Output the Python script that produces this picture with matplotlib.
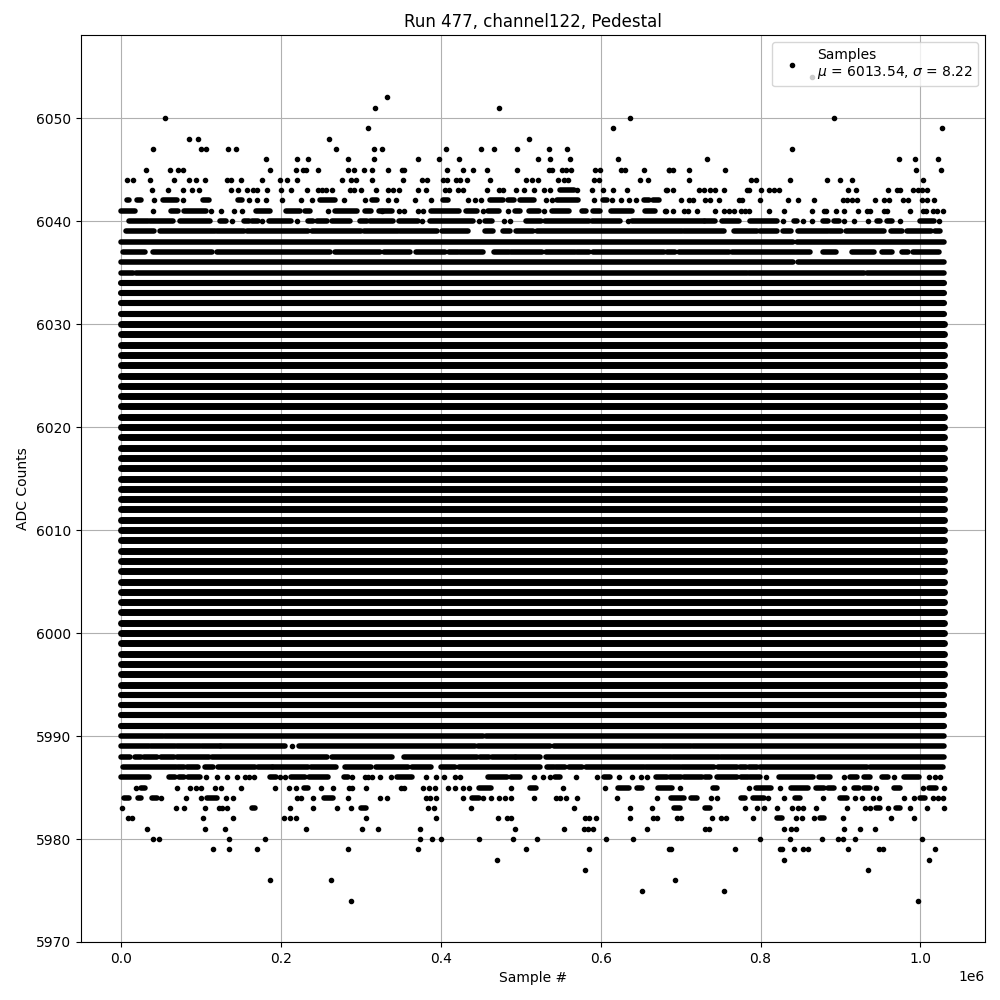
import matplotlib
matplotlib.use("Agg")
import matplotlib.pyplot as plt

# sample positions are in thousands of samples
core_rows = [5995,5996,5997,5998,5999,6000,6001,6002,6003,6004,6005,
             6006,6007,6008,6009,6010,6011,6012,6013,6014,6015,6016,6017,6018,6019,6020,
             6021,6022,6023,6024,6025,6026,6027,6028,6029,6030]
edge_rows = [5991,5992,5993,5994,6031,6032,6033,6034]
full_extent = (0, 1030)

# isolated samples, one list per ADC level
d6054 = [865]
d6052 = [333]
d6051 = [317, 472]
d6050 = [55, 637, 892]
d6049 = [308, 615, 1027]
d6048 = [84, 96, 260, 510]
d6047 = [39, 99, 105.5, 133, 143, 268, 315.5, 326, 406, 449.5, 466, 495, 535, 558, 840]
d6046 = [181.5, 220, 234, 283, 315.5, 371, 397, 423, 521, 537, 562, 621, 732.5, 973, 993, 1022]
d6045 = [31, 61, 71, 77.5, 186, 218, 227, 231, 246.5, 284, 290.5, 303, 314, 334, 351, 354, 407, 428, 439.5,
         457, 495, 535, 539, 551, 557, 562.6, 593, 598.5, 625, 630, 654, 685, 686, 690, 711, 756, 994, 1026]
d6044 = [6.5, 15, 36, 66, 85, 93, 105, 132.6, 137.6, 150, 176.4, 199, 207.7, 220, 275.8, 287, 293, 314, 353, 376,
         382, 403, 407.3, 418.6, 424, 433, 460.7, 507, 514, 521, 546, 553.4, 559, 592, 598, 648.6, 658.6,
         711, 788, 794, 836.5, 883, 900, 915, 1004]
d6043 = [38.6, 58.7, 77.5, 88.7, 97.5, 137.6, 146.4, 157.6, 165, 170, 181.8, 200, 212.7, 232.8, 246.6, 250.7,
         255.8, 263.3, 286, 291, 300.4, 319, 334, 339.7, 346.8, 370.6, 380.6, 404.4, 410.6, 420.7, 428, 457,
         473, 477.4, 493.3, 503.3, 517, 528.4, 536.7, 570, 588.5, 602.3, 614.8, 632.7, 682.4,
         682, 691, 722.5, 729, 737, 743.4, 754, 782.6, 785, 800, 810, 816.5, 823, 910, 920, 959, 971, 975,
         990.5, 997, 1002, 1008.5]
d6042 = [41, 77.5, 160, 170, 181.4, 201.5, 224.9, 239, 279, 304.6, 334, 344, 368, 387.7, 434.4, 443, 450, 531,
         538.4, 592, 614, 624.8, 634.8, 644.4, 700, 711, 715,
         731, 737, 747.6, 772.6, 777, 799, 835, 846.5, 866.6, 903, 908, 914.6, 921, 943, 954, 960.5, 978.4,
         984, 1002, 1008.5, 1017]
d6041 = [39.9, 111.7, 125, 141.4, 151.4, 258, 326, 348, 354, 370.6, 378, 452.4, 483.3, 528.4, 682,
         681, 691, 704, 709, 720, 742.6, 754, 760, 767, 775, 781, 785,
         810, 829, 864, 879, 882.4, 894, 904, 922, 933, 937, 954, 958, 987, 1003, 1007, 1016, 1021, 1028]
d6040 = [138, 176.4, 219.4, 376.8, 447.8, 478.3, 485.8, 633.6, 827.7, 853, 864.5, 905, 916.6, 934, 974, 1023.5]
d5989 = [213.6]
d5986 = [106, 120, 132.6, 145, 154, 160, 166.4, 198.6, 205, 289, 305, 309, 314, 323, 338, 381, 394, 404, 418,
         424, 517, 528, 536, 569, 595, 623, 639, 650, 657.4, 806.4, 905, 967.6, 1010.6, 1018, 1024.4]
d5985 = [17.8, 70, 86, 93.3, 100, 117, 124, 150, 192.7, 210, 218, 249.5, 265, 285, 289, 305.5, 350, 354, 377,
         385, 393, 409, 417, 427, 435, 487, 553, 605.6, 699, 785, 824, 905, 944, 1003, 1030]
d5984 = [50, 81, 100, 131, 140, 219.4, 225, 240, 284, 324, 333, 381, 386, 394, 428, 453, 463, 472, 479.5, 488,
         517, 543.4, 549, 556, 569.7, 620, 671, 737.5, 746, 809, 829, 878, 918, 927, 940.5, 948, 979, 992,
         1015.6, 1022, 1029]
d5983 = [1, 68.7, 78.7, 105, 122.6, 126.3, 132.6, 211.5, 240, 270, 287, 384.3, 391, 437, 566, 636, 663.6, 780,
         795, 804, 820, 839, 846.5, 853, 870, 908, 930.4, 937.5, 959, 987, 1008, 1030]
d5982 = [8.6, 13.6, 102.5, 140, 203, 211.5, 219, 306.7, 394, 470.8, 483, 488, 580, 585, 593.5, 636, 666, 670,
         696, 700.4, 739, 750, 757, 791, 845, 851.5, 866.5, 903, 963, 992]
d5981 = [32.4, 105, 129, 231.5, 301.7, 321.7, 374, 492, 553.4, 578.5, 583.5, 589.8, 657.4, 730, 736, 829, 838,
         844, 905, 924, 943]
d5980 = [40, 46.6, 135, 180, 374, 389, 399.4, 448, 489.5, 519.6, 606, 640, 799, 836.5, 876.5, 896.6, 903, 918, 1002]
d5979 = [114, 135, 170, 283, 370.6, 507, 584.7, 685, 688, 767.6, 824, 826.5, 841.5, 853, 859, 909, 948, 953, 1019]
d5978 = [469.5, 829, 1010.6]
d5977 = [579.7, 934]
d5976 = [186.4, 262.8, 692.5]
d5975 = [652, 754]
d5974 = [287, 997]

dot_levels = [6054, 6052, 6051, 6050, 6049, 6048, 6047, 6046, 6045, 6044, 6043, 6042, 6041, 6040,
              5989, 5986, 5985, 5984, 5983, 5982, 5981, 5980, 5979, 5978, 5977, 5976, 5975, 5974]
dot_rows = [d6054, d6052, d6051, d6050, d6049, d6048, d6047, d6046, d6045, d6044, d6043, d6042, d6041, d6040,
            d5989, d5986, d5985, d5984, d5983, d5982, d5981, d5980, d5979, d5978, d5977, d5976, d5975, d5974]

# runs of overlapping samples, (first, last)
r6043 = [(549, 566)]
r6042 = [(7, 10), (19, 24), (52, 69), (102, 110), (146, 151), (248, 267), (313, 320), (403, 409), (461, 478),
         (484, 491), (499, 516), (545, 571), (603, 608), (654, 660), (666, 673)]
r6041 = [(0, 17), (62, 71), (78, 106), (169, 186), (206, 223), (230, 236), (267, 295), (305, 312), (322, 339),
         (388, 422), (431, 445), (459, 473), (493, 499), (510, 523), (539, 560), (576, 582), (590, 599),
         (613, 639), (655, 668)]
r6040 = [(9, 33), (36, 65), (73, 111), (123, 131), (153, 159), (163, 171), (185, 212), (233, 240), (245, 257),
         (263, 286), (298, 307), (311, 340), (347, 371), (386, 440), (455, 464), (507, 525), (530, 585),
         (589, 624), (639, 729), (731, 743), (752, 773), (787, 821), (842, 846), (878, 885), (892, 898),
         (946, 950), (958, 965), (1000, 1017)]
r6039 = [(6, 41), (48, 117), (119, 153), (157, 234), (238, 300), (303, 346), (349, 395), (401, 434), (455, 465),
         (477, 486), (494, 515), (520, 702), (704, 754), (767, 796), (799, 821), (828, 838), (847, 885),
         (887, 901), (907, 955), (963, 977), (983, 1013), (1018, 1025)]
r6038 = [(0, 841), (846, 1030)]
r6037 = [(2, 29), (39, 113), (120, 261), (267, 324), (329, 361), (369, 405), (410, 421), (424, 453), (466, 485),
         (488, 526), (531, 568), (570, 585), (590, 679), (683, 693), (698, 760), (764, 862), (878, 894),
         (914, 942), (952, 965), (977, 985), (991, 1023)]
r6036 = [(0, 841), (847, 1030)]
r6035 = [(0, 15), (18, 783), (785, 930), (933, 1030)]
r5990 = [(0, 52), (54, 452), (456, 1030)]
r5989 = [(0, 34), (37, 67), (70, 98), (101, 123), (125, 205), (222, 443), (446, 537), (541, 674), (677, 713), (716, 1030)]
r5988 = [(0, 11), (17, 24), (28, 45), (49, 66), (70, 109), (113, 257), (264, 339), (354, 445), (449, 460),
         (464, 492), (494, 524), (531, 688), (690, 748), (751, 1030)]
r5987 = [(2, 68), (71, 78), (82, 96), (105, 115), (121, 167), (171, 188), (190, 233), (237, 268), (280, 312),
         (319, 359), (364, 388), (400, 418), (423, 524), (533, 541), (544, 555), (560, 576), (581, 654),
         (656, 699), (702, 742), (747, 770), (774, 782), (785, 796), (799, 933), (937, 1028)]
r5986 = [(0, 35), (59, 67), (72, 78), (83, 98), (186, 194), (212, 230), (235, 259), (278, 284), (345, 364),
         (459, 482), (488, 499), (543, 549), (604, 611), (669, 683), (687, 700), (704, 727), (731, 737),
         (746, 771), (775, 784), (787, 799), (823, 866), (873, 887), (912, 921), (929, 937), (952, 960), (979, 999)]
r5985 = [(25, 30), (228, 233), (447, 462), (512, 519), (622, 635), (645, 652), (672, 689), (741, 746), (794, 813),
         (838, 860), (869, 879), (885, 892), (917, 923), (929, 937), (967, 974), (1011, 1020)]
r5984 = [(3, 9), (21, 25), (38, 44), (107, 119), (254, 265), (439, 448), (688, 704), (713, 721), (775, 780),
         (790, 804), (843, 849), (900, 908), (1000, 1006)]
r5983 = [(163, 167), (300, 306), (692, 699), (730, 737), (944, 949), (969, 975)]
r5982 = [(875, 879), (820, 827)]

run_levels = [6043, 6042, 6041, 6040, 6039, 6038, 6037, 6036, 6035, 5990, 5989, 5988, 5987, 5986, 5985, 5984, 5983, 5982]
run_rows = [r6043, r6042, r6041, r6040, r6039, r6038, r6037, r6036, r6035, r5990, r5989, r5988, r5987, r5986,
            r5985, r5984, r5983, r5982]

title = "Run 477, channel122, Pedestal"
legend_text = "Samples\n$\\mu$ = 6013.54, $\\sigma$ = 8.22"

fig, ax = plt.subplots(figsize=(10, 10), dpi=100)

xs, ys = [], []
for lvl, row in zip(dot_levels, dot_rows):
    for s in row:
        xs.append(s * 1000)
        ys.append(lvl)
ax.plot(xs, ys, ".", color="black", label=legend_text, zorder=2)

for lvl, row in zip(run_levels, run_rows):
    for a, b in row:
        ax.plot([a * 1000, b * 1000], [lvl, lvl], color="black", lw=4.0, solid_capstyle="round", zorder=2)
for lvl in edge_rows:
    ax.plot([full_extent[0] * 1000, full_extent[1] * 1000], [lvl, lvl], color="black", lw=4.4,
            solid_capstyle="round", zorder=2)
for lvl in core_rows:
    ax.plot([full_extent[0] * 1000, full_extent[1] * 1000], [lvl, lvl], color="black", lw=5.0,
            solid_capstyle="round", zorder=2)

ax.set_xlim(-50700, 1081000)
ax.set_ylim(5970, 6058.06)
ax.set_yticks(range(5970, 6051, 10))
ax.grid(True)
ax.set_xlabel("Sample #")
ax.set_ylabel("ADC Counts")
ax.set_title(title)
ax.legend(loc="upper right")
fig.subplots_adjust(left=0.081, right=0.985, top=0.965, bottom=0.058)
fig.savefig("out.png", dpi=100)
